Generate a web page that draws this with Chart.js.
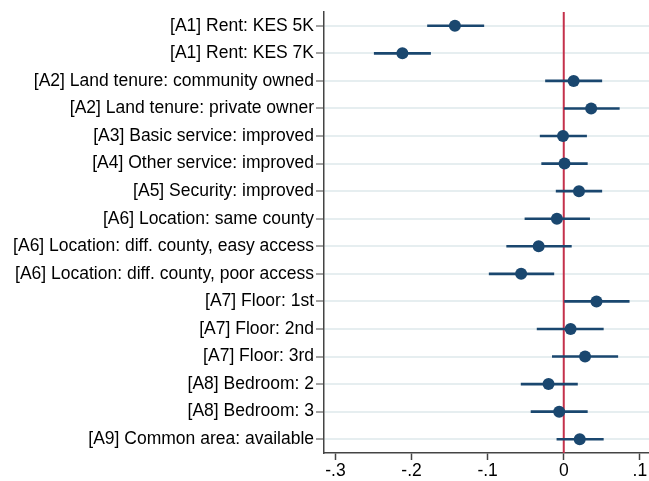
<!DOCTYPE html>
<html>
<head>
<meta charset="utf-8">
<script src="https://cdn.jsdelivr.net/npm/chart.js@4"></script>
<style>
html,body{margin:0;padding:0;background:#fff;}
#wrap{width:649px;height:481px;}
</style>
</head>
<body>
<div id="wrap"><canvas id="c" width="649" height="481"></canvas></div>
<script>
const categories = [
  "[A1] Rent: KES 5K",
  "[A1] Rent: KES 7K",
  "[A2] Land tenure: community owned",
  "[A2] Land tenure: private owner",
  "[A3] Basic service: improved",
  "[A4] Other service: improved",
  "[A5] Security: improved",
  "[A6] Location: same county",
  "[A6] Location: diff. county, easy access",
  "[A6] Location: diff. county, poor access",
  "[A7] Floor: 1st",
  "[A7] Floor: 2nd",
  "[A7] Floor: 3rd",
  "[A8] Bedroom: 2",
  "[A8] Bedroom: 3",
  "[A9] Common area: available"
];
const coef  = [-0.143, -0.212, 0.013, 0.036, -0.001, 0.001, 0.020, -0.009, -0.033, -0.056, 0.043, 0.009, 0.028, -0.020, -0.006, 0.021];
const ciLow = [-0.179, -0.249, -0.024, 0.000, -0.031, -0.029, -0.010, -0.051, -0.075, -0.098, 0.001, -0.035, -0.015, -0.056, -0.043, -0.009];
const ciHigh= [-0.105, -0.175, 0.050, 0.073, 0.030, 0.031, 0.050, 0.034, 0.010, -0.013, 0.086, 0.052, 0.071, 0.018, 0.031, 0.052];
const xTicks = [-0.3, -0.2, -0.1, 0, 0.1];
const refValue = 0;

const navy = '#1a476f';
const fontFam = 'Arial, "Liberation Sans", Helvetica, sans-serif';

const refLine = {
  id: 'refLine',
  beforeDatasetsDraw(chart) {
    const {ctx, chartArea, scales} = chart;
    const x = scales.x.getPixelForValue(refValue);
    ctx.save();
    ctx.strokeStyle = '#c4314b';
    ctx.lineWidth = 2;
    ctx.beginPath();
    ctx.moveTo(x, chartArea.top);
    ctx.lineTo(x, chartArea.bottom);
    ctx.stroke();
    ctx.restore();
  }
};

function fmt(v){
  if (Math.abs(v) < 1e-9) return '0';
  const s = (Math.round(v*10)/10).toString();
  return s.replace('0.', '.');
}

new Chart(document.getElementById('c'), {
  type: 'bar',
  data: {
    labels: categories,
    datasets: [
      {
        type: 'line',
        indexAxis: 'y',
        data: coef,
        showLine: false,
        pointRadius: 6,
        pointHoverRadius: 6,
        pointBackgroundColor: navy,
        pointBorderColor: navy,
        pointBorderWidth: 0,
        order: 0
      },
      {
        type: 'bar',
        data: categories.map((_, i) => [ciLow[i], ciHigh[i]]),
        backgroundColor: navy,
        borderWidth: 0,
        barThickness: 2,
        borderSkipped: false,
        order: 1
      }
    ]
  },
  options: {
    indexAxis: 'y',
    responsive: false,
    animation: false,
    devicePixelRatio: 1,
    layout: { autoPadding: false, padding: { top: 12, right: 0, left: 0, bottom: 0 } },
    plugins: { legend: { display: false }, tooltip: { enabled: false } },
    scales: {
      x: {
        type: 'linear',
        min: -0.315,
        max: 0.112,
        afterBuildTicks(scale) { scale.ticks = xTicks.map(v => ({ value: v })); },
        afterFit(scale) { scale.height = 28; scale.paddingLeft = 0; scale.paddingRight = 0; },
        border: { display: true, color: '#444', width: 1.5 },
        grid: { display: true, drawOnChartArea: false, drawTicks: true, tickLength: 7, tickColor: '#444', tickWidth: 1.5 },
        ticks: {
          color: '#000',
          padding: 1,
          font: { family: fontFam, size: 17.5 },
          callback: (v) => fmt(v),
          maxRotation: 0
        }
      },
      y: {
        type: 'category',
        offset: true,
        afterFit(scale) { scale.width = 324; scale.paddingTop = 0; scale.paddingBottom = 0; },
        border: { display: true, color: '#444', width: 1.5 },
        grid: { display: true, offset: false, color: '#e6eef0', lineWidth: 2, drawTicks: true, tickLength: 8, tickColor: '#444', tickWidth: 1 },
        ticks: {
          color: '#000',
          padding: 2,
          font: { family: fontFam, size: 17.5 },
          autoSkip: false
        }
      }
    }
  },
  plugins: [refLine]
});
</script>
</body>
</html>
